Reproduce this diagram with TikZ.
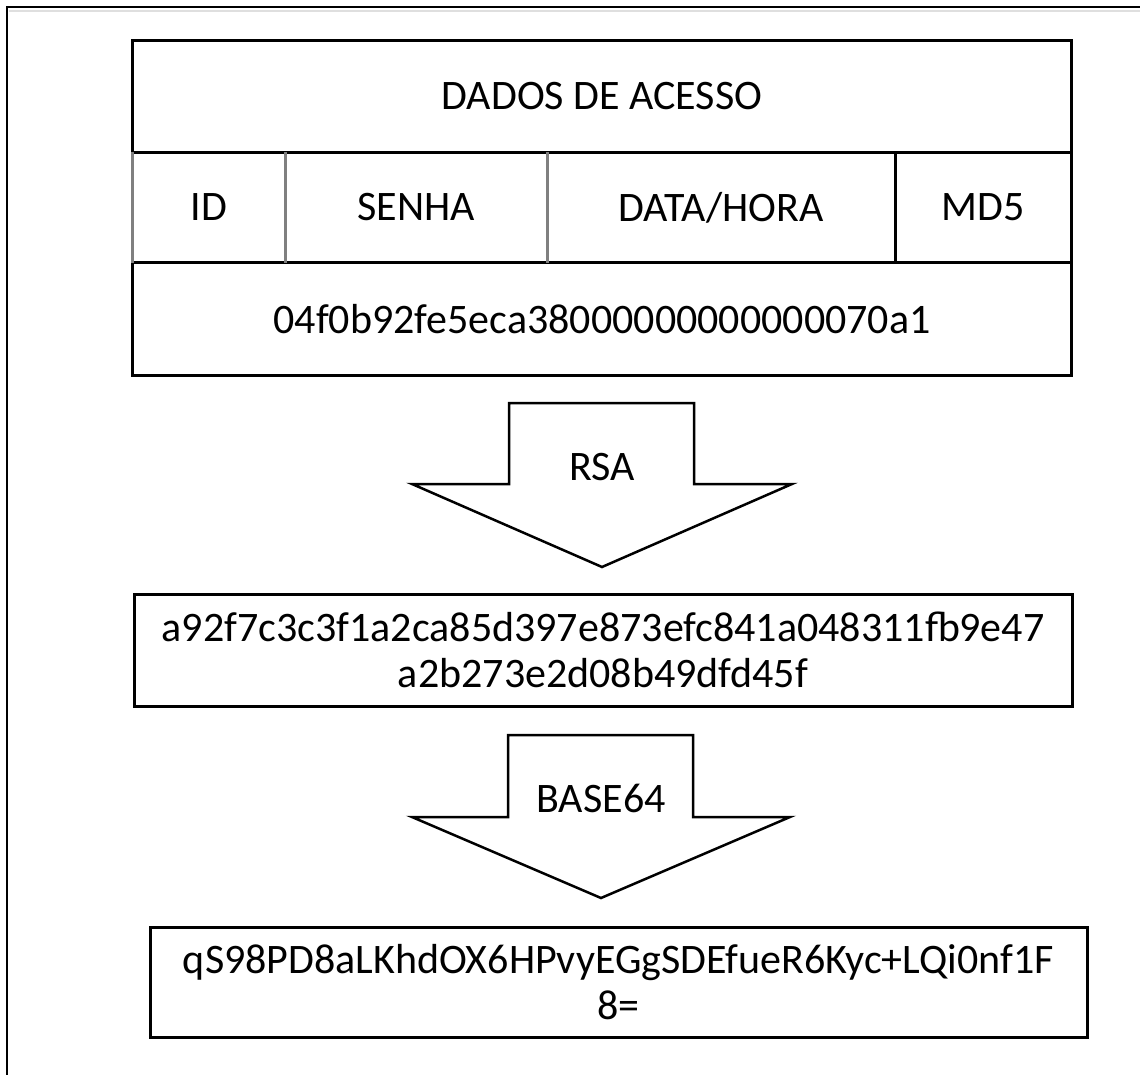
\documentclass[tikz,border=0pt]{standalone}
\usepackage{fontspec}
\setmainfont{Carlito}
\begin{document}
\begin{tikzpicture}[x=1pt,y=-1pt,
  cell/.style={inner sep=0pt, minimum height=111pt, font=\fontsize{42}{46}\selectfont, align=center},
  boxed/.style={cell, draw=black, line width=3pt},
  txt/.style={inner sep=0pt, font=\fontsize{42}{46}\selectfont, align=center},
  blockarrow/.style={draw=black, line width=2.5pt, fill=white, line join=miter},
  frame/.style={draw=black, line width=2pt},
  blackdiv/.style={draw=black, line width=3pt},
  graydiv/.style={draw=gray, line width=3pt}]
\useasboundingbox (0,0) rectangle (1140,1075);
% outer frame
\draw[gray!25, line width=2pt] (9,11) -- (1140,11);
\draw[frame] (7,1075) -- (7,7) -- (1140,7);
% table
\node[cell, minimum width=938pt] (title) at (602,96.5) {DADOS DE ACESSO};
\node[cell, minimum width=152pt] (id) at (209,207.5) {ID};
\node[cell, minimum width=262pt] (senha) at (416,207.5) {SENHA};
\node[cell, minimum width=348pt] (data) at (721,207.5) {DATA/HORA};
\node[cell, minimum width=176pt] (md5) at (983,207.5) {MD5};
\node[cell, minimum width=938pt, minimum height=112pt] (hash) at (602,319) {04f0b92fe5eca38000000000000070a1};
\draw[blackdiv] (title.south west) -- (title.north west) -- (title.north east) -- (md5.south east) -- (hash.south east) -- (hash.south west) -- (hash.north west);
\draw[blackdiv] (title.south west) -- (title.south east);
\draw[blackdiv] (hash.north west) -- (hash.north east);
\draw[graydiv] (id.north west) -- (id.south west);
\draw[graydiv] (id.north east) -- (id.south east);
\draw[graydiv] (senha.north east) -- (senha.south east);
\draw[blackdiv] (data.north east) -- (data.south east);
% RSA arrow
\draw[blockarrow] (509,403) -- (694,403) -- (694,484) -- (792,484) -- (602,567) -- (412,484) -- (509,484) -- cycle;
\node[txt] (rsa) at (602,467) {RSA};
% box 2
\node[boxed, minimum width=938pt, minimum height=112pt] (rsaout) at (603,650) {a92f7c3c3f1a2ca85d397e873efc841a048311fb9e47\\a2b273e2d08b49dfd45f};
% BASE64 arrow
\draw[blockarrow] (508,735) -- (693,735) -- (693,817) -- (790,817) -- (601,898) -- (412,817) -- (508,817) -- cycle;
\node[txt] (b64) at (601,798) {BASE64};
% box 3
\node[boxed, minimum width=937pt, minimum height=110pt] (b64out) at (618.5,982) {qS98PD8aLKhdOX6HPvyEGgSDEfueR6Kyc+LQi0nf1F\\8=};
\end{tikzpicture}
\end{document}
